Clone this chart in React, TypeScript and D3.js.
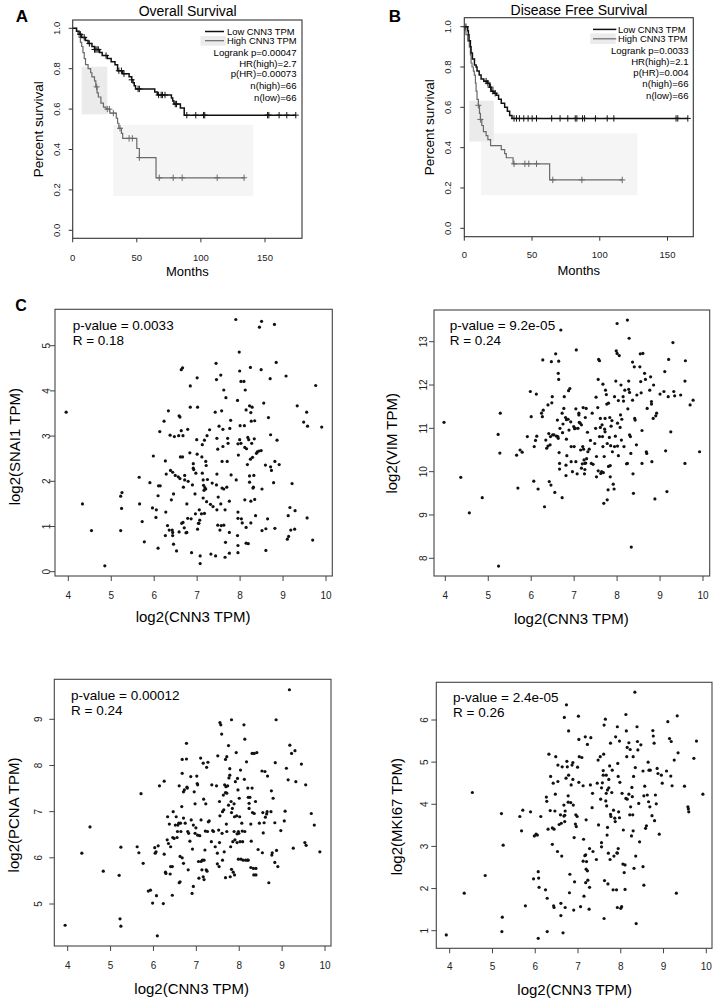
import React from "react";
import * as d3 from "d3";

// ---------- Survival data (months, survival) ----------
const osLowSteps: [number, number][] = [
  [0, 1.0], [3, 0.985], [5, 0.97], [7, 0.955], [10, 0.94], [12, 0.925], [15, 0.91], [17, 0.895],
  [21, 0.88], [23, 0.865], [27, 0.85], [30, 0.835], [33, 0.82], [35, 0.79], [39, 0.775], [44, 0.76],
  [46, 0.745], [47, 0.73], [48, 0.715], [49, 0.7], [64, 0.685], [66, 0.67], [77, 0.655], [78, 0.64],
  [79, 0.625], [84, 0.605], [87, 0.57],
];
const osLowEnd = 174;
const osLowCensor = [6, 9, 13, 17, 18, 19, 20, 26, 36, 38, 40, 46, 51, 52, 67, 69, 70, 72, 80, 81, 89, 96, 102, 103, 152, 153, 161, 167, 174];
const osHighSteps: [number, number][] = [
  [0, 1.0], [3, 0.985], [4, 0.97], [5, 0.955], [6, 0.93], [7, 0.91], [8, 0.88], [9, 0.85], [10, 0.82],
  [12, 0.8], [14, 0.78], [15, 0.76], [17, 0.74], [18, 0.71], [19, 0.68], [20, 0.66], [22, 0.63],
  [24, 0.61], [26, 0.6], [29, 0.58], [34, 0.555], [35, 0.53], [36, 0.505], [38, 0.48], [39, 0.455],
  [50, 0.405], [52, 0.36], [65, 0.26],
];
const osHighEnd = 134;
const osHighCensor = [18.7, 27, 28.6, 31.7, 36.9, 44, 46.5, 52, 67.5, 78.4, 85.4, 112.7, 133.7];
// CI boxes: [m0, m1, s0, s1]
const osBands: [number, number, number, number][] = [
  [31.7, 140.9, 0.169, 0.521],
  [7, 27, 0.574, 0.81],
  [99.7, 119.4, 0.914, 0.962],
];
const osStats = ["Logrank p=0.00047", "HR(high)=2.7", "p(HR)=0.00073", "n(high)=66", "n(low)=66"];

const dfsLowSteps: [number, number][] = [
  [0, 1.0], [2.5, 0.98], [3, 0.96], [3.5, 0.93], [4.5, 0.9], [5, 0.87], [6, 0.84], [7.5, 0.81],
  [8.7, 0.8], [9.4, 0.78], [11, 0.76], [12.4, 0.74], [14.4, 0.73], [17, 0.72], [18.6, 0.7], [19.8, 0.68],
  [21.8, 0.67], [23.6, 0.66], [25.3, 0.64], [27.3, 0.62], [29.8, 0.6], [31.8, 0.58], [33.5, 0.56], [35.2, 0.545],
];
const dfsLowEnd = 165;
const dfsLowCensor = [1.2, 16.1, 17.4, 19.4, 21.1, 22.8, 36.7, 38.5, 40.7, 43.9, 47.1, 50.1, 53.3, 64.5, 70.7, 76.4, 81.9, 83.1, 87.3, 88.8, 96.8, 105.5, 110.4, 156.3, 157.6, 165];
const dfsHighSteps: [number, number][] = [
  [0, 1.0], [0.5, 0.98], [1.2, 0.96], [2.5, 0.93], [3.7, 0.9], [4.5, 0.86], [5, 0.82], [5.7, 0.8],
  [6.7, 0.78], [7.4, 0.76], [8.2, 0.72], [8.7, 0.68], [9.4, 0.64], [10.4, 0.61], [11.2, 0.57], [11.9, 0.54],
  [12.9, 0.51], [14.1, 0.48], [16.1, 0.46], [17.4, 0.44], [19.4, 0.41], [27.3, 0.39], [29.8, 0.37],
  [31, 0.35], [36, 0.32], [63, 0.24],
];
const dfsHighEnd = 116.6;
const dfsHighCensor = [10.4, 11.9, 36.7, 44.7, 47.6, 53.3, 65.3, 86.8, 116.6];
const dfsBands: [number, number, number, number][] = [
  [12.4, 127.8, 0.165, 0.471],
  [3.7, 21.8, 0.43, 0.633],
  [93, 111.7, 0.914, 0.967],
];
const dfsStats = ["Logrank p=0.0033", "HR(high)=2.1", "p(HR)=0.004", "n(high)=66", "n(low)=66"];

const survYTicks = [0, 0.2, 0.4, 0.6, 0.8, 1.0];
const survXTicks = [0, 50, 100, 150];
const legendLabels = ["Low CNN3 TPM", "High CNN3 TPM"];

// ---------- Scatter data: [log2(CNN3 TPM), log2(gene TPM)] ----------
const snai1Pts: [number, number][] = [
  [3.95, 3.53], [4.33, 1.5], [4.54, 0.91], [4.85, 0.13], [5.22, 1.67], [5.25, 1.75], [5.24, 1.4], [5.22, 0.91],
  [5.66, 1.5], [5.65, 2.09], [5.72, 1.11], [5.77, 0.66], [5.9, 1.97], [5.98, 2.56], [5.96, 1.41], [6.05, 1.37],
  [6.04, 1.2], [6.09, 0.52], [6.09, 1.68], [6.1, 1.9], [6.14, 1.9], [6.13, 3.1], [6.23, 3.33], [6.26, 2.45],
  [6.28, 2.16], [6.27, 1.32], [6.26, 0.8], [6.31, 1.02], [6.33, 3.56], [6.35, 0.92], [6.37, 3.02], [6.38, 2.24],
  [6.4, 1.59], [6.42, 0.92], [6.43, 2.2], [6.43, 0.8], [6.43, 0.87], [6.45, 0.61], [6.47, 2.99], [6.45, 1.72],
  [6.49, 2.13], [6.52, 0.46], [6.56, 2.1], [6.57, 3.01], [6.58, 0.88], [6.58, 3.45], [6.6, 3.42], [6.6, 2.06],
  [6.61, 2.54], [6.63, 3.12], [6.63, 4.47], [6.66, 4.51], [6.64, 1.07], [6.67, 1.09], [6.66, 2.54], [6.67, 3.01],
  [6.68, 1.87], [6.7, 0.97], [6.71, 2.13], [6.71, 2.03], [6.74, 0.86], [6.76, 0.87], [6.76, 1.5], [6.78, 3.15],
  [6.79, 2.0], [6.78, 1.18], [6.84, 4.11], [6.84, 3.64], [6.83, 2.63], [6.86, 1.17], [6.87, 0.42], [6.89, 1.92],
  [6.91, 2.39], [6.91, 2.29], [6.92, 2.26], [6.95, 1.72], [6.96, 1.28], [6.97, 2.18], [6.99, 2.92], [7.0, 4.29],
  [7.01, 3.64], [7.0, 2.6], [7.01, 0.94], [7.03, 1.07], [7.04, 1.07], [7.06, 1.14], [7.07, 0.35], [7.07, 0.18],
  [7.05, 1.37], [7.1, 1.28], [7.12, 2.81], [7.11, 2.54], [7.12, 2.18], [7.14, 2.03], [7.14, 1.63], [7.15, 1.91],
  [7.16, 1.8], [7.17, 2.91], [7.17, 1.29], [7.18, 1.86], [7.2, 1.83], [7.2, 2.44], [7.21, 2.35], [7.22, 1.55],
  [7.23, 3.01], [7.24, 2.04], [7.29, 3.14], [7.31, 1.49], [7.32, 0.39], [7.35, 1.96], [7.37, 1.44], [7.42, 3.53],
  [7.43, 0.35], [7.44, 4.61], [7.45, 1.92], [7.45, 4.25], [7.46, 1.37], [7.46, 2.95], [7.46, 2.16], [7.48, 2.71],
  [7.48, 1.03], [7.49, 1.65], [7.51, 3.22], [7.53, 0.92], [7.55, 4.35], [7.55, 1.5], [7.56, 1.02], [7.57, 3.56],
  [7.58, 1.85], [7.58, 2.44], [7.6, 3.15], [7.6, 2.77], [7.62, 4.02], [7.62, 1.83], [7.62, 1.03], [7.65, 0.32],
  [7.65, 1.37], [7.66, 0.65], [7.67, 3.85], [7.69, 1.87], [7.7, 2.44], [7.71, 2.95], [7.72, 2.84], [7.75, 0.87],
  [7.75, 1.56], [7.75, 0.41], [7.76, 3.17], [7.78, 3.35], [7.79, 2.14], [7.9, 5.58], [7.91, 2.03], [7.94, 3.79],
  [7.95, 2.83], [7.95, 1.32], [7.95, 1.18], [7.94, 0.8], [7.95, 0.58], [7.95, 0.42], [7.96, 2.58], [7.98, 4.86],
  [7.99, 2.92], [7.99, 4.44], [8.0, 3.23], [8.02, 4.21], [8.02, 2.84], [8.03, 1.17], [8.05, 1.08], [8.09, 4.21],
  [8.12, 4.02], [8.1, 3.23], [8.11, 1.59], [8.11, 2.75], [8.14, 0.98], [8.14, 0.63], [8.14, 3.58], [8.15, 2.72],
  [8.17, 2.37], [8.18, 2.97], [8.19, 0.62], [8.2, 2.92], [8.22, 3.67], [8.22, 2.12], [8.22, 1.98], [8.24, 4.52],
  [8.25, 1.56], [8.25, 3.52], [8.24, 2.49], [8.25, 1.08], [8.26, 3.33], [8.27, 2.84], [8.28, 3.64], [8.29, 2.53],
  [8.3, 1.85], [8.31, 1.87], [8.32, 2.13], [8.33, 2.94], [8.34, 1.6], [8.34, 3.34], [8.36, 1.24], [8.38, 2.62],
  [8.4, 2.65], [8.44, 2.67], [8.45, 5.41], [8.49, 2.68], [8.5, 5.54], [8.49, 4.47], [8.51, 1.83], [8.51, 0.91],
  [8.55, 3.73], [8.59, 2.36], [8.6, 0.95], [8.6, 0.47], [8.64, 1.17], [8.66, 3.41], [8.7, 4.27], [8.71, 2.32],
  [8.71, 3.03], [8.73, 2.24], [8.78, 1.97], [8.8, 5.47], [8.81, 2.44], [8.81, 0.96], [8.84, 4.63], [8.86, 2.91],
  [8.91, 2.37], [9.07, 4.33], [9.1, 0.72], [9.12, 1.24], [9.13, 0.78], [9.16, 1.42], [9.18, 0.92], [9.21, 1.95],
  [9.28, 1.35], [9.27, 0.94], [9.33, 3.67], [9.48, 3.31], [9.55, 3.53], [9.56, 1.19], [9.57, 3.22], [9.69, 0.7],
  [9.76, 4.12], [9.9, 3.2],
];

const vimPts: [number, number][] = [
  [3.97, 11.14], [4.36, 9.87], [4.56, 9.05], [4.86, 9.4], [5.23, 10.86], [5.27, 10.43], [5.28, 11.35], [5.24, 7.82],
  [5.66, 10.38], [5.69, 9.62], [5.74, 10.5], [5.79, 10.45], [5.91, 10.81], [5.98, 11.85], [6.0, 11.27], [6.06, 9.78],
  [6.07, 10.58], [6.1, 10.72], [6.12, 11.79], [6.16, 9.6], [6.13, 10.82], [6.24, 11.35], [6.26, 11.27], [6.27, 12.58],
  [6.28, 11.42], [6.31, 9.19], [6.34, 10.73], [6.36, 10.54], [6.39, 11.54], [6.39, 10.59], [6.41, 10.88], [6.42, 9.77],
  [6.44, 10.62], [6.45, 10.81], [6.46, 9.69], [6.47, 12.54], [6.48, 11.59], [6.49, 11.73], [6.5, 10.85], [6.53, 10.85],
  [6.55, 9.52], [6.57, 12.72], [6.59, 10.82], [6.61, 11.19], [6.62, 10.81], [6.63, 10.77], [6.64, 12.55], [6.63, 12.27],
  [6.64, 12.13], [6.65, 10.44], [6.66, 10.19], [6.66, 10.06], [6.67, 11.0], [6.69, 13.27], [6.72, 11.35], [6.72, 9.4],
  [6.73, 10.9], [6.74, 11.1], [6.76, 11.46], [6.77, 11.73], [6.8, 11.25], [6.81, 10.15], [6.81, 9.91], [6.82, 10.75],
  [6.82, 11.2], [6.83, 10.37], [6.86, 11.21], [6.87, 11.87], [6.88, 10.96], [6.9, 11.92], [6.92, 11.15], [6.93, 10.23],
  [6.93, 10.58], [6.96, 10.0], [6.99, 11.04], [7.0, 10.58], [7.01, 10.99], [7.03, 11.0], [7.04, 11.45], [7.05, 12.81],
  [7.04, 10.23], [7.07, 9.95], [7.09, 11.0], [7.11, 11.35], [7.11, 11.31], [7.12, 11.14], [7.14, 11.12], [7.15, 10.5],
  [7.17, 11.08], [7.17, 10.08], [7.19, 10.18], [7.2, 10.58], [7.21, 11.48], [7.22, 10.52], [7.23, 10.27], [7.24, 9.95],
  [7.25, 10.19], [7.25, 10.05], [7.26, 11.25], [7.27, 10.2], [7.28, 11.46], [7.29, 10.3], [7.31, 10.91], [7.32, 10.46],
  [7.35, 10.52], [7.38, 10.72], [7.4, 10.19], [7.42, 11.35], [7.44, 10.17], [7.48, 10.65], [7.5, 11.0], [7.51, 11.72],
  [7.52, 10.35], [7.52, 9.88], [7.55, 11.48], [7.56, 12.13], [7.56, 10.02], [7.57, 12.59], [7.59, 12.56], [7.59, 10.81],
  [7.61, 11.23], [7.61, 11.02], [7.62, 9.96], [7.64, 10.0], [7.65, 11.08], [7.66, 10.81], [7.67, 12.02], [7.67, 10.58],
  [7.68, 9.98], [7.69, 9.27], [7.7, 10.35], [7.71, 10.98], [7.72, 10.92], [7.72, 11.23], [7.73, 11.88], [7.75, 11.78],
  [7.76, 11.56], [7.77, 9.35], [7.77, 10.65], [7.79, 9.58], [7.8, 10.12], [7.8, 11.58], [7.82, 10.79], [7.83, 11.25],
  [7.84, 10.14], [7.84, 9.88], [7.85, 10.6], [7.86, 11.05], [7.88, 11.18], [7.89, 10.46], [7.91, 9.71], [7.93, 9.6],
  [7.94, 10.58], [7.94, 11.73], [7.96, 10.82], [7.97, 12.09], [7.98, 12.79], [8.0, 13.42], [8.0, 12.73], [8.01, 10.59],
  [8.01, 11.12], [8.03, 11.64], [8.03, 10.37], [8.05, 12.68], [8.07, 11.02], [8.08, 11.31], [8.09, 12.0], [8.1, 10.73],
  [8.11, 11.21], [8.14, 11.73], [8.15, 11.63], [8.16, 10.58], [8.18, 11.88], [8.22, 10.18], [8.24, 10.19], [8.24, 13.5],
  [8.25, 11.45], [8.27, 12.09], [8.28, 13.08], [8.27, 11.9], [8.29, 11.83], [8.29, 10.85], [8.31, 10.81], [8.32, 10.42],
  [8.33, 8.26], [8.36, 11.65], [8.36, 12.53], [8.37, 9.95], [8.38, 9.5], [8.4, 12.42], [8.41, 11.23], [8.42, 11.19],
  [8.45, 10.62], [8.46, 11.77], [8.53, 12.42], [8.54, 12.72], [8.55, 12.08], [8.56, 11.82], [8.58, 10.19], [8.58, 10.95],
  [8.6, 12.73], [8.64, 12.27], [8.66, 12.13], [8.68, 10.46], [8.69, 10.42], [8.7, 11.46], [8.76, 11.88], [8.8, 11.62],
  [8.78, 12.19], [8.8, 11.56], [8.81, 10.23], [8.84, 11.23], [8.85, 12.0], [8.88, 9.37], [8.9, 11.29], [8.92, 11.35],
  [9.0, 11.79], [9.09, 11.85], [9.11, 12.31], [9.13, 10.48], [9.16, 9.54], [9.19, 11.73], [9.2, 12.59], [9.25, 10.92],
  [9.3, 12.98], [9.32, 11.85], [9.34, 11.75], [9.48, 11.77], [9.58, 12.09], [9.59, 12.56], [9.58, 10.19], [9.7, 11.54],
  [9.77, 11.65], [9.92, 10.46],
];

const pcnaPts: [number, number][] = [
  [3.94, 4.54], [4.33, 6.1], [4.52, 6.67], [4.83, 5.71], [5.2, 5.62], [5.22, 4.68], [5.24, 4.52], [5.24, 6.23],
  [5.62, 6.24], [5.66, 6.11], [5.71, 7.39], [5.76, 5.88], [5.88, 5.28], [5.93, 5.3], [5.98, 5.02], [6.03, 6.22],
  [6.04, 6.1], [6.06, 6.13], [6.07, 5.18], [6.09, 4.31], [6.11, 6.26], [6.14, 7.56], [6.23, 5.01], [6.25, 6.08],
  [6.25, 7.66], [6.28, 5.69], [6.29, 5.66], [6.32, 6.39], [6.33, 6.89], [6.35, 6.31], [6.37, 6.73], [6.39, 5.65],
  [6.4, 5.81], [6.4, 6.24], [6.44, 5.81], [6.44, 5.19], [6.45, 6.44], [6.46, 7.0], [6.48, 6.42], [6.51, 6.71],
  [6.53, 6.89], [6.55, 6.44], [6.56, 6.57], [6.57, 6.71], [6.59, 6.75], [6.6, 5.46], [6.6, 7.56], [6.62, 5.48],
  [6.62, 6.03], [6.63, 6.75], [6.64, 6.57], [6.66, 7.11], [6.67, 6.0], [6.67, 8.13], [6.67, 7.83], [6.7, 7.43],
  [6.7, 5.88], [6.7, 6.86], [6.72, 7.47], [6.74, 6.75], [6.77, 8.48], [6.77, 8.14], [6.78, 7.53], [6.79, 7.51],
  [6.8, 6.57], [6.81, 5.74], [6.82, 6.53], [6.85, 6.36], [6.87, 7.76], [6.88, 6.82], [6.9, 5.23], [6.91, 6.19],
  [6.93, 5.38], [6.93, 6.71], [6.95, 7.43], [6.97, 7.17], [6.97, 6.53], [6.99, 6.65], [7.01, 7.77], [7.02, 7.61],
  [7.03, 7.58], [7.03, 6.49], [7.05, 5.92], [7.06, 5.56], [7.08, 6.48], [7.1, 8.16], [7.11, 6.82], [7.11, 5.92],
  [7.13, 5.74], [7.14, 5.95], [7.16, 8.05], [7.16, 5.59], [7.17, 7.27], [7.18, 5.53], [7.18, 5.95], [7.2, 6.17],
  [7.21, 6.58], [7.22, 7.17], [7.23, 5.74], [7.24, 7.96], [7.25, 5.71], [7.26, 6.57], [7.27, 8.07], [7.28, 6.78],
  [7.3, 6.8], [7.35, 6.35], [7.36, 7.58], [7.38, 6.59], [7.4, 6.57], [7.44, 6.24], [7.47, 7.56], [7.49, 6.1],
  [7.49, 5.87], [7.5, 8.21], [7.52, 6.6], [7.53, 5.81], [7.54, 6.33], [7.54, 7.22], [7.55, 6.91], [7.55, 8.93],
  [7.57, 8.88], [7.59, 8.68], [7.6, 6.53], [7.61, 7.0], [7.61, 5.95], [7.63, 7.36], [7.64, 7.04], [7.65, 6.13],
  [7.66, 7.58], [7.68, 5.57], [7.68, 8.13], [7.68, 7.41], [7.69, 7.54], [7.7, 6.73], [7.71, 6.57], [7.71, 8.19],
  [7.71, 7.4], [7.73, 7.56], [7.75, 7.14], [7.75, 8.43], [7.76, 7.73], [7.78, 7.93], [7.78, 7.79], [7.79, 5.59],
  [7.8, 6.24], [7.81, 7.22], [7.82, 5.75], [7.82, 8.99], [7.82, 6.98], [7.84, 7.07], [7.85, 6.35], [7.86, 5.69],
  [7.88, 7.17], [7.88, 6.57], [7.89, 6.89], [7.89, 5.63], [7.9, 6.39], [7.91, 7.65], [7.93, 8.28], [7.94, 6.91],
  [7.95, 6.33], [7.95, 6.52], [7.96, 7.72], [7.97, 7.47], [7.98, 5.97], [7.98, 6.57], [7.99, 6.53], [8.0, 7.29],
  [8.01, 6.89], [8.02, 6.35], [8.03, 7.9], [8.04, 5.97], [8.06, 6.75], [8.07, 6.58], [8.08, 6.35], [8.09, 5.95],
  [8.11, 8.88], [8.12, 7.7], [8.13, 6.57], [8.13, 8.57], [8.15, 5.95], [8.17, 8.08], [8.19, 5.95], [8.2, 7.51],
  [8.21, 7.31], [8.21, 5.95], [8.23, 7.07], [8.23, 7.18], [8.25, 7.31], [8.27, 5.79], [8.27, 6.73], [8.28, 6.36],
  [8.3, 8.26], [8.3, 7.51], [8.31, 6.98], [8.33, 5.77], [8.34, 5.63], [8.35, 8.26], [8.35, 6.96], [8.38, 7.22],
  [8.39, 5.63], [8.39, 5.77], [8.41, 8.28], [8.44, 6.18], [8.47, 6.75], [8.53, 7.88], [8.54, 6.11], [8.55, 6.98],
  [8.56, 6.54], [8.58, 6.76], [8.6, 7.87], [8.61, 6.88], [8.64, 6.95], [8.65, 7.0], [8.66, 7.77], [8.69, 5.46],
  [8.74, 7.0], [8.75, 7.45], [8.76, 6.06], [8.77, 6.11], [8.79, 7.29], [8.83, 6.76], [8.83, 5.9], [8.84, 8.06],
  [8.86, 8.99], [8.87, 6.16], [8.9, 5.81], [8.97, 6.59], [9.05, 6.8], [9.07, 7.01], [9.1, 7.94], [9.14, 7.69],
  [9.17, 9.64], [9.18, 8.44], [9.22, 8.26], [9.26, 6.21], [9.3, 8.32], [9.32, 7.65], [9.45, 8.03], [9.53, 6.33],
  [9.56, 6.27], [9.55, 7.58], [9.68, 6.96], [9.75, 6.71], [9.88, 6.13],
];

const mki67Pts: [number, number][] = [
  [3.92, 0.9], [4.34, 1.89], [4.53, 4.28], [4.83, 2.31], [5.21, 3.78], [5.23, 1.32], [5.22, 0.98], [5.25, 3.03],
  [5.64, 3.71], [5.68, 3.37], [5.71, 3.86], [5.77, 1.59], [5.89, 3.82], [5.96, 2.23], [5.98, 3.25], [6.02, 3.29],
  [6.05, 3.27], [6.07, 2.4], [6.08, 2.25], [6.09, 2.03], [6.07, 0.82], [6.13, 3.71], [6.24, 1.97], [6.26, 4.17],
  [6.27, 4.07], [6.28, 1.77], [6.28, 0.98], [6.3, 3.41], [6.32, 5.19], [6.35, 3.85], [6.36, 4.66], [6.4, 3.05],
  [6.4, 3.44], [6.42, 4.5], [6.43, 1.59], [6.44, 3.41], [6.44, 1.55], [6.46, 3.84], [6.47, 4.24], [6.48, 5.13],
  [6.52, 2.88], [6.53, 4.54], [6.53, 4.93], [6.56, 3.52], [6.59, 3.75], [6.6, 1.36], [6.6, 1.65], [6.61, 3.55],
  [6.62, 2.77], [6.63, 4.89], [6.65, 0.95], [6.67, 3.72], [6.67, 3.98], [6.68, 6.06], [6.69, 3.59], [6.69, 3.74],
  [6.7, 1.55], [6.7, 3.84], [6.72, 4.62], [6.73, 6.36], [6.74, 5.02], [6.75, 4.89], [6.77, 4.2], [6.77, 4.05],
  [6.78, 5.74], [6.78, 4.69], [6.8, 1.9], [6.81, 2.34], [6.83, 4.04], [6.84, 4.46], [6.86, 4.93], [6.88, 4.99],
  [6.88, 4.59], [6.89, 3.98], [6.9, 1.49], [6.91, 3.21], [6.92, 2.16], [6.94, 3.53], [6.95, 3.75], [6.96, 3.47],
  [6.98, 3.71], [6.99, 4.88], [7.01, 6.09], [7.02, 5.54], [7.02, 4.52], [7.03, 5.13], [7.06, 1.57], [7.09, 5.11],
  [7.12, 2.65], [7.12, 4.44], [7.13, 3.17], [7.14, 1.82], [7.16, 2.78], [7.17, 5.6], [7.18, 2.8], [7.18, 2.14],
  [7.19, 2.46], [7.19, 3.63], [7.2, 2.64], [7.22, 5.42], [7.22, 2.42], [7.23, 2.2], [7.26, 1.51], [7.27, 2.95],
  [7.27, 2.03], [7.29, 4.46], [7.3, 5.58], [7.33, 3.92], [7.34, 4.26], [7.35, 2.88], [7.43, 2.69], [7.45, 4.5],
  [7.47, 5.05], [7.48, 3.51], [7.52, 5.13], [7.53, 4.12], [7.55, 4.39], [7.55, 3.09], [7.55, 2.99], [7.57, 4.51],
  [7.59, 4.8], [7.59, 4.69], [7.6, 5.19], [7.61, 1.29], [7.61, 5.88], [7.62, 2.19], [7.64, 6.02], [7.65, 4.08],
  [7.66, 4.26], [7.66, 4.69], [7.67, 3.96], [7.68, 3.27], [7.69, 3.45], [7.69, 4.34], [7.7, 2.11], [7.71, 2.84],
  [7.72, 4.59], [7.72, 4.39], [7.74, 4.91], [7.75, 2.69], [7.76, 5.45], [7.76, 3.76], [7.77, 3.71], [7.79, 4.28],
  [7.8, 4.81], [7.82, 1.97], [7.83, 3.86], [7.84, 2.77], [7.86, 3.67], [7.87, 3.59], [7.88, 5.6], [7.9, 1.97],
  [7.91, 2.85], [7.92, 5.84], [7.92, 2.84], [7.92, 1.55], [7.93, 4.97], [7.94, 2.95], [7.94, 4.66], [7.95, 3.82],
  [7.97, 3.68], [7.97, 5.5], [7.98, 4.52], [8.0, 1.53], [8.02, 1.57], [8.03, 4.26], [8.05, 2.58], [8.06, 3.39],
  [8.08, 2.38], [8.1, 1.98], [8.1, 2.56], [8.12, 6.13], [8.12, 4.14], [8.13, 5.74], [8.14, 5.13], [8.15, 5.35],
  [8.15, 4.12], [8.19, 5.46], [8.19, 4.24], [8.21, 3.75], [8.22, 5.3], [8.23, 3.94], [8.25, 3.25], [8.26, 4.4],
  [8.27, 4.18], [8.28, 3.75], [8.29, 3.37], [8.29, 5.13], [8.3, 4.66], [8.31, 2.48], [8.33, 6.66], [8.34, 4.87],
  [8.35, 2.77], [8.36, 1.17], [8.38, 5.84], [8.39, 5.49], [8.4, 5.29], [8.42, 4.02], [8.44, 3.11], [8.47, 5.41],
  [8.52, 4.79], [8.52, 2.52], [8.54, 2.08], [8.54, 4.2], [8.56, 4.43], [8.58, 3.43], [8.6, 3.49], [8.62, 4.22],
  [8.64, 5.0], [8.65, 4.06], [8.66, 4.81], [8.68, 3.94], [8.69, 4.81], [8.73, 3.73], [8.75, 5.75], [8.76, 5.62],
  [8.78, 5.45], [8.79, 3.61], [8.81, 4.22], [8.83, 4.01], [8.85, 4.85], [8.87, 4.73], [8.9, 3.29], [8.95, 4.69],
  [8.97, 4.5], [9.07, 4.79], [9.1, 5.96], [9.14, 5.56], [9.17, 4.67], [9.18, 5.49], [9.2, 4.44], [9.25, 5.05],
  [9.3, 1.89], [9.32, 6.1], [9.34, 5.22], [9.49, 4.43], [9.57, 3.94], [9.58, 3.89], [9.59, 3.82], [9.71, 5.09],
  [9.77, 5.5], [9.92, 4.24],
];

const scatterXTicks = [4, 5, 6, 7, 8, 9, 10];
const snai1YTicks = [0, 1, 2, 3, 4, 5];
const vimYTicks = [8, 9, 10, 11, 12, 13];
const pcnaYTicks = [5, 6, 7, 8, 9];
const mki67YTicks = [1, 2, 3, 4, 5, 6];

const FONT = "'Liberation Sans', Arial, Helvetica, sans-serif";

type SurvProps = {
  box: { l: number; r: number; t: number; b: number };
  xr: [number, number];
  yr: [number, number];
  title: string; titleX: number; titleY: number;
  letter: string; letterX: number;
  ylabX: number; xlabY: number; ytickX: number; xtickY: number;
  low: [number, number][]; lowEnd: number; lowC: number[];
  high: [number, number][]; highEnd: number; highC: number[];
  bands: [number, number, number, number][];
  stats: string[];
  legLine: [number, number]; legTextX: number; statsX: number; legY: number[]; statY: number[];
};

function stepAt(steps: [number, number][], t: number) {
  let s = steps[0][1];
  for (const [m, v] of steps) if (m <= t) s = v;
  return s;
}

function Survival(p: SurvProps) {
  const x = d3.scaleLinear().domain([0, 150]).range(p.xr);
  const y = d3.scaleLinear().domain([0, 1]).range(p.yr);
  const line = d3.line<[number, number]>().x((d) => x(d[0])).y((d) => y(d[1])).curve(d3.curveStepAfter);
  const lowPts: [number, number][] = [...p.low, [p.lowEnd, p.low[p.low.length - 1][1]]];
  const highPts: [number, number][] = [...p.high, [p.highEnd, p.high[p.high.length - 1][1]]];
  const bandColors = ["#f5f5f5", "#ebebeb", "#ebebeb"];
  const cx = (p.box.l + p.box.r) / 2;
  const cy = (p.box.t + p.box.b) / 2;
  const censor = (ts: number[], steps: [number, number][], color: string, k: string) =>
    ts.map((t, i) => {
      const px = x(t), py = y(stepAt(steps, t));
      return (
        <g key={k + i} stroke={color} strokeWidth={1}>
          <line x1={px} x2={px} y1={py - 3.2} y2={py + 3.2} />
          <line x1={px - 3} x2={px + 3} y1={py} y2={py} />
        </g>
      );
    });
  return (
    <g fontFamily={FONT}>
      <text x={p.letterX} y={22} fontSize={17} fontWeight="bold" textAnchor="middle">{p.letter}</text>
      <text x={p.titleX} y={p.titleY} fontSize={14} textAnchor="middle">{p.title}</text>
      {p.bands.map((b, i) => (
        <rect key={i} x={x(b[0])} width={x(b[1]) - x(b[0])} y={y(b[3])} height={y(b[2]) - y(b[3])} fill={bandColors[i]} />
      ))}
      <path d={line(highPts) || ""} fill="none" stroke="#6a6a6a" strokeWidth={1.2} />
      <path d={line(lowPts) || ""} fill="none" stroke="#111" strokeWidth={1.5} />
      {censor(p.highC, p.high, "#6a6a6a", "h")}
      {censor(p.lowC, p.low, "#111", "l")}
      <rect x={p.box.l} y={p.box.t} width={p.box.r - p.box.l} height={p.box.b - p.box.t} fill="none" stroke="#333" strokeWidth={1.1} />
      {survYTicks.map((v) => (
        <g key={"y" + v}>
          <line x1={p.box.l - 4} x2={p.box.l} y1={y(v)} y2={y(v)} stroke="#333" />
          <text transform={`translate(${p.ytickX},${y(v)}) rotate(-90)`} fontSize={9.5} textAnchor="middle" dy="0.35em" fill="#222">{v.toFixed(1)}</text>
        </g>
      ))}
      {survXTicks.map((v) => (
        <g key={"x" + v}>
          <line x1={x(v)} x2={x(v)} y1={p.box.b} y2={p.box.b + 4} stroke="#333" />
          <text x={x(v)} y={p.xtickY} fontSize={9.5} textAnchor="middle" dy="0.35em" fill="#222">{v}</text>
        </g>
      ))}
      <text transform={`translate(${p.ylabX},${cy}) rotate(-90)`} fontSize={13.5} textAnchor="middle" dy="0.35em">Percent survival</text>
      <text x={cx} y={p.xlabY} fontSize={13} textAnchor="middle" dy="0.35em">Months</text>
      <line x1={p.legLine[0]} x2={p.legLine[1]} y1={p.legY[0]} y2={p.legY[0]} stroke="#111" strokeWidth={1.5} />
      <line x1={p.legLine[0]} x2={p.legLine[1]} y1={p.legY[1]} y2={p.legY[1]} stroke="#6a6a6a" strokeWidth={1.2} />
      {legendLabels.map((s, i) => (
        <text key={s} x={p.legTextX} y={p.legY[i]} fontSize={9.4} dy="0.35em">{s}</text>
      ))}
      {p.stats.map((s, i) => (
        <text key={s} x={p.statsX} y={p.statY[i]} fontSize={9.6} textAnchor="end" dy="0.35em">{s}</text>
      ))}
    </g>
  );
}

type ScatProps = {
  pts: [number, number][];
  box: { l: number; r: number; t: number; b: number };
  xr: [number, number];
  yd: [number, number]; yr: [number, number];
  yTicks: number[];
  ylab: string; ylabX: number; ylabY: number;
  xlabX: number; xlabY: number; xtickY: number; ytickX: number;
  pText: string; rText: string; textX: number; pY: number; rY: number;
};

function Scatter(p: ScatProps) {
  const x = d3.scaleLinear().domain([4, 10]).range(p.xr);
  const y = d3.scaleLinear().domain(p.yd).range(p.yr);
  return (
    <g fontFamily={FONT}>
      <rect x={p.box.l} y={p.box.t} width={p.box.r - p.box.l} height={p.box.b - p.box.t} fill="none" stroke="#444" strokeWidth={1.1} />
      {p.pts.map((d, i) => (
        <circle key={i} cx={x(d[0])} cy={y(d[1])} r={1.6} fill="#111" />
      ))}
      {scatterXTicks.map((v) => (
        <g key={"x" + v}>
          <line x1={x(v)} x2={x(v)} y1={p.box.b} y2={p.box.b + 5} stroke="#444" />
          <text x={x(v)} y={p.xtickY} fontSize={10} textAnchor="middle" dy="0.35em" fill="#222">{v}</text>
        </g>
      ))}
      {p.yTicks.map((v) => (
        <g key={"y" + v}>
          <line x1={p.box.l - 5} x2={p.box.l} y1={y(v)} y2={y(v)} stroke="#444" />
          <text transform={`translate(${p.ytickX},${y(v)}) rotate(-90)`} fontSize={10} textAnchor="middle" dy="0.35em" fill="#222">{v}</text>
        </g>
      ))}
      <text x={p.xlabX} y={p.xlabY} fontSize={15} textAnchor="middle" dy="0.35em">log2(CNN3 TPM)</text>
      <text transform={`translate(${p.ylabX},${p.ylabY}) rotate(-90)`} fontSize={15} textAnchor="middle" dy="0.35em">{p.ylab}</text>
      <text x={p.textX} y={p.pY} fontSize={13.5} dy="0.35em">{p.pText}</text>
      <text x={p.textX} y={p.rY} fontSize={13.5} dy="0.35em">{p.rText}</text>
    </g>
  );
}

export default function App() {
  return (
    <svg width={718} height={1003} style={{ position: "absolute", left: 0, top: 0, background: "#fff" }}>
      <rect width={718} height={1003} fill="#fff" />
      <Survival
        box={{ l: 72.7, r: 302, t: 20, b: 238.3 }} xr={[72.7, 265]} yr={[230.3, 28.3]}
        title="Overall Survival" titleX={187.7} titleY={16} letter="A" letterX={22}
        ylabX={38} xlabY={271.5} ytickX={56.7} xtickY={257.7}
        low={osLowSteps} lowEnd={osLowEnd} lowC={osLowCensor}
        high={osHighSteps} highEnd={osHighEnd} highC={osHighCensor}
        bands={osBands} stats={osStats}
        legLine={[205, 224]} legTextX={227} statsX={296.5} legY={[31.5, 40.7]} statY={[52.3, 63.3, 74, 86, 97.3]}
      />
      <Survival
        box={{ l: 464.3, r: 693.3, t: 17.7, b: 236.7 }} xr={[464.3, 667.5]} yr={[228.3, 26.7]}
        title="Disease Free Survival" titleX={579} titleY={15} letter="B" letterX={395}
        ylabX={429.7} xlabY={270.7} ytickX={447.3} xtickY={255}
        low={dfsLowSteps} lowEnd={dfsLowEnd} lowC={dfsLowCensor}
        high={dfsHighSteps} highEnd={dfsHighEnd} highC={dfsHighCensor}
        bands={dfsBands} stats={dfsStats}
        legLine={[593, 616.3]} legTextX={618} statsX={688.5} legY={[29.4, 38.8]} statY={[50.7, 61.3, 72.7, 84, 96]}
      />
      <text x={21} y={311} fontSize={16} fontWeight="bold" fontFamily={FONT} textAnchor="middle">C</text>
      <Scatter
        pts={snai1Pts} box={{ l: 55, r: 332.3, t: 309.3, b: 576 }} xr={[68.3, 326]}
        yd={[0, 5]} yr={[571.7, 345.7]} yTicks={snai1YTicks}
        ylab="log2(SNAI1 TPM)" ylabX={15} ylabY={446.7} xlabX={193} xlabY={616.7} xtickY={595} ytickX={46.7}
        pText="p-value = 0.0033" rText="R = 0.18" textX={72.7} pY={325} rY={340.7}
      />
      <Scatter
        pts={vimPts} box={{ l: 434, r: 709.7, t: 310, b: 576 }} xr={[445.3, 703]}
        yd={[8, 13]} yr={[558.3, 341.7]} yTicks={vimYTicks}
        ylab="log2(VIM TPM)" ylabX={391.3} ylabY={443.3} xlabX={571.3} xlabY={618.3} xtickY={595} ytickX={423}
        pText="p-value = 9.2e-05" rText="R = 0.24" textX={449.7} pY={325} rY={340.7}
      />
      <Scatter
        pts={pcnaPts} box={{ l: 54.3, r: 331, t: 679.3, b: 946 }} xr={[67.7, 325]}
        yd={[5, 9]} yr={[904, 719.3]} yTicks={pcnaYTicks}
        ylab="log2(PCNA TPM)" ylabX={14} ylabY={815} xlabX={191.7} xlabY={988.3} xtickY={965} ytickX={38.3}
        pText="p-value = 0.00012" rText="R = 0.24" textX={71} pY={695} rY={710.7}
      />
      <Scatter
        pts={mki67Pts} box={{ l: 436.3, r: 712, t: 682.3, b: 948.3 }} xr={[449.7, 706.3]}
        yd={[1, 6]} yr={[930.7, 720]} yTicks={mki67YTicks}
        ylab="log2(MKI67 TPM)" ylabX={396.3} ylabY={816.7} xlabX={574.7} xlabY={990} xtickY={966.7} ytickX={424.7}
        pText="p-value = 2.4e-05" rText="R = 0.26" textX={453} pY={697.3} rY={712.7}
      />
    </svg>
  );
}
